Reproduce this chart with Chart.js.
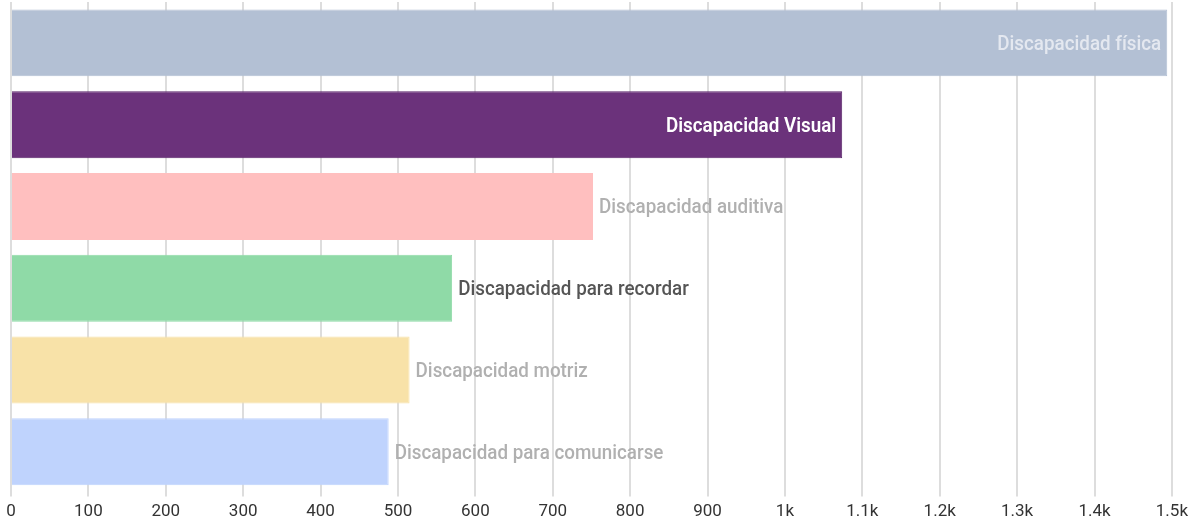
<!DOCTYPE html>
<html>
<head>
<meta charset="utf-8">
<script src="https://cdn.jsdelivr.net/npm/chart.js@4"></script>
<style>
  html, body { margin: 0; padding: 0; background: #fff; }
  #wrap { width: 1193px; height: 523px; position: relative; }
</style>
</head>
<body>
<div id="wrap"><canvas id="chart"></canvas></div>
<script>
const categories = [
  "Discapacidad física",
  "Discapacidad Visual",
  "Discapacidad auditiva",
  "Discapacidad para recordar",
  "Discapacidad motriz",
  "Discapacidad para comunicarse"
];
const values = [1494, 1074, 752, 570, 515, 488];
const tickValues = [0, 100, 200, 300, 400, 500, 600, 700, 800, 900, 1000, 1100, 1200, 1300, 1400, 1500];

const barColors = ["#b3c0d4", "#6b327b", "#ffbfbf", "#8fdaa7", "#f8e2a8", "#bfd3fd"];
const borderColors = ["#b3c0d4", "#5a2569", "#ffbfbf", "#8fdaa7", "#f8e2a8", "#bfd3fd"];
// label style: inside bar or after it
const labelInside = [true, true, false, false, false, false];
const labelColors = ["#e4e8f0", "#ffffff", "#b0b0b0", "#555555", "#b0b0b0", "#b0b0b0"];
const labelWeight = ["500", "600", "500", "500", "500", "500"];

const FONT = 'Roboto, "Noto Sans", sans-serif';

// fake a condensed face by squeezing the text horizontally
const barLabels = {
  id: "barLabels",
  afterDatasetsDraw(chart) {
    const ctx = chart.ctx;
    const meta = chart.getDatasetMeta(0);
    const sx = 0.94;
    meta.data.forEach((bar, i) => {
      ctx.save();
      ctx.textBaseline = "middle";
      ctx.font = labelWeight[i] + " 20px " + FONT;
      ctx.fillStyle = labelColors[i];
      let x, align;
      if (labelInside[i]) { x = bar.x - 6; align = "right"; }
      else { x = bar.x + 6; align = "left"; }
      ctx.translate(x, bar.y + 2);
      ctx.scale(sx, 1);
      ctx.textAlign = align;
      ctx.fillText(categories[i], 0, 0);
      ctx.restore();
    });
  }
};

new Chart(document.getElementById("chart"), {
  type: "bar",
  data: {
    labels: categories,
    datasets: [{
      data: values,
      backgroundColor: barColors,
      borderColor: borderColors,
      borderWidth: 1,
      barPercentage: 0.9,
      categoryPercentage: 0.91
    }]
  },
  options: {
    indexAxis: "y",
    responsive: true,
    maintainAspectRatio: false,
    animation: false,
    layout: { padding: { left: 11, right: 4, top: 2, bottom: -4 } },
    plugins: {
      legend: { display: false },
      tooltip: { enabled: false }
    },
    scales: {
      y: { display: false },
      x: {
        min: 0,
        max: 1500,
        afterBuildTicks: axis => { axis.ticks = tickValues.map(v => ({ value: v })); },
        grid: { color: "#dddddd", lineWidth: 2, drawTicks: true, tickLength: 4 },
        border: { display: false },
        ticks: {
          color: "#333333",
          padding: 5,
          maxRotation: 0,
          autoSkip: false,
          font: { family: FONT, size: 17 },
          callback: v => v >= 1000 ? (v / 1000) + "k" : String(v)
        }
      }
    }
  },
  plugins: [barLabels]
});
</script>
</body>
</html>
